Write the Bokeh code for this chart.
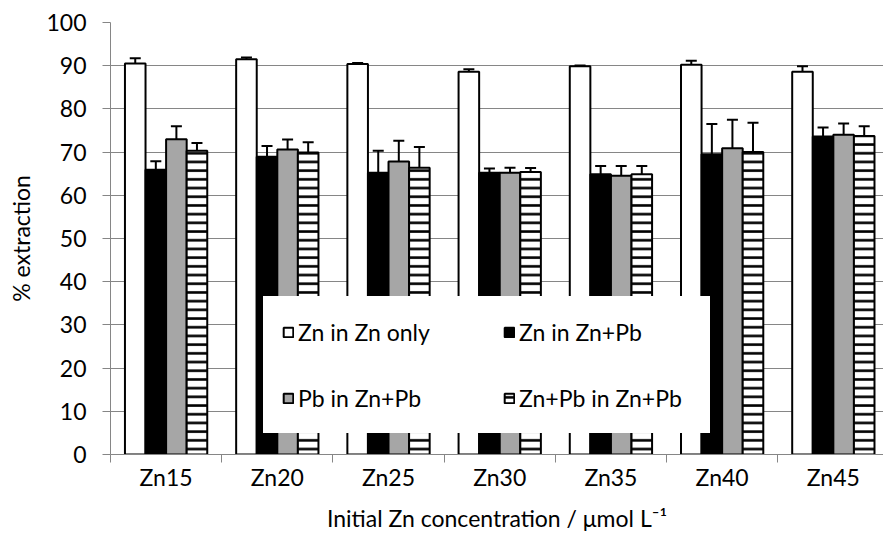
from bokeh.plotting import figure
from bokeh.models import (ColumnDataSource, Range1d, FixedTicker, Whisker, TeeHead,
                          Legend, LegendItem)
from bokeh.embed import file_html
from bokeh.resources import INLINE

# ---- data ----
categories = ["Zn15", "Zn20", "Zn25", "Zn30", "Zn35", "Zn40", "Zn45"]
series_names = ["Zn in Zn only", "Zn in Zn+Pb", "Pb in Zn+Pb", "Zn+Pb in Zn+Pb"]
zn_only = [90.5, 91.5, 90.4, 88.6, 89.9, 90.2, 88.6]
zn_only_err = [1.2, 0.4, 0.2, 0.6, 0.15, 0.95, 1.3]
zn_in_znpb = [65.9, 68.9, 65.2, 65.2, 64.9, 69.5, 73.6]
zn_in_znpb_err = [2.0, 2.5, 5.1, 1.0, 1.9, 7.0, 2.1]
pb_in_znpb = [73.0, 70.6, 67.8, 65.2, 64.5, 70.9, 74.0]
pb_in_znpb_err = [3.0, 2.3, 4.85, 1.15, 2.3, 6.6, 2.6]
znpb_in_znpb = [70.3, 69.9, 66.4, 65.4, 64.9, 70.0, 73.7]
znpb_in_znpb_err = [1.8, 2.4, 4.8, 0.9, 1.9, 6.8, 2.3]
y_ticks = [0, 10, 20, 30, 40, 50, 60, 70, 80, 90, 100]

values = [zn_only, zn_in_znpb, pb_in_znpb, znpb_in_znpb]
errors = [zn_only_err, zn_in_znpb_err, pb_in_znpb_err, znpb_in_znpb_err]

FONT = "Lato"
FS = "23px"
GRAY = "#868686"
BAR_W = 0.185
n = len(categories)

p = figure(width=883, height=543, output_backend="svg", toolbar_location=None,
           x_range=Range1d(0, 6.951), y_range=Range1d(0, 100),
           min_border_left=110, min_border_right=0, min_border_top=22,
           min_border_bottom=89)
p.outline_line_color = None

styles = [
    dict(fill_color="white", line_color="black"),
    dict(fill_color="black", line_color="black"),
    dict(fill_color="#a6a6a6", line_color="black"),
    dict(fill_color="white", line_color="black", hatch_pattern="horizontal_line",
         hatch_color="black", hatch_scale=8.7, hatch_weight=2.6),
]

renderers = []
for j, (vals, errs) in enumerate(zip(values, errors)):
    xs = [i + 0.5 + (j - 1.5) * BAR_W for i in range(n)]
    src = ColumnDataSource(dict(x=xs, top=vals,
                                upper=[v + e for v, e in zip(vals, errs)],
                                lower=[v - e for v, e in zip(vals, errs)]))
    r = p.vbar(x="x", top="top", bottom=0, width=BAR_W, source=src,
               line_width=2, **styles[j])
    renderers.append(r)
    w = Whisker(source=src, base="x", upper="upper", lower="lower",
                line_color="black", line_width=2,
                upper_head=TeeHead(size=11, line_width=2, line_color="black"),
                lower_head=TeeHead(size=11, line_width=2, line_color="black"))
    p.add_layout(w)

# axes
xa = p.xaxis[0]
xa.ticker = FixedTicker(ticks=[i + 0.5 for i in range(n)],
                        minor_ticks=list(range(n + 1)))
xa.major_label_overrides = {i + 0.5: c for i, c in enumerate(categories)}
xa.major_tick_out = 0
xa.major_tick_in = 0
xa.minor_tick_out = 8
xa.minor_tick_in = 0
xa.minor_tick_line_color = GRAY
xa.axis_line_color = GRAY
xa.major_label_text_font = FONT
xa.major_label_text_font_size = FS
xa.major_label_text_color = "black"
xa.major_label_standoff = 0
xa.axis_label = "Initial Zn concentration / \u03bcmol L\u207b\u00b9"
xa.axis_label_text_font = FONT
xa.axis_label_text_font_size = FS
xa.axis_label_text_font_style = "normal"
xa.axis_label_text_color = "black"
xa.axis_label_standoff = 10

ya = p.yaxis[0]
ya.ticker = FixedTicker(ticks=y_ticks)
ya.major_tick_out = 8
ya.major_tick_in = 0
ya.minor_tick_out = 0
ya.minor_tick_in = 0
ya.major_tick_line_color = GRAY
ya.axis_line_color = GRAY
ya.major_label_text_font = FONT
ya.major_label_text_font_size = FS
ya.major_label_text_color = "black"
ya.major_label_standoff = 16
ya.axis_label = "% extraction"
ya.axis_label_text_font = FONT
ya.axis_label_text_font_size = FS
ya.axis_label_text_font_style = "normal"
ya.axis_label_text_color = "black"
ya.axis_label_standoff = 8

p.xgrid.visible = False
p.ygrid.ticker = FixedTicker(ticks=y_ticks)
p.ygrid.grid_line_color = GRAY
p.ygrid.grid_line_width = 1

legend = Legend(items=[LegendItem(label=s, renderers=[r]) for s, r in zip(series_names, renderers)],
                location=(153, 21), orientation="horizontal", ncols=2,
                label_text_font=FONT, label_text_font_size=FS, label_text_color="black",
                glyph_width=12, glyph_height=12, label_standoff=4,
                label_height=33, label_width=172, spacing=33, padding=18, margin=0,
                border_line_color="white", border_line_width=1,
                background_fill_color="white", background_fill_alpha=1.0)
p.add_layout(legend, "center")

open("out.html", "w").write(file_html(p, INLINE))
